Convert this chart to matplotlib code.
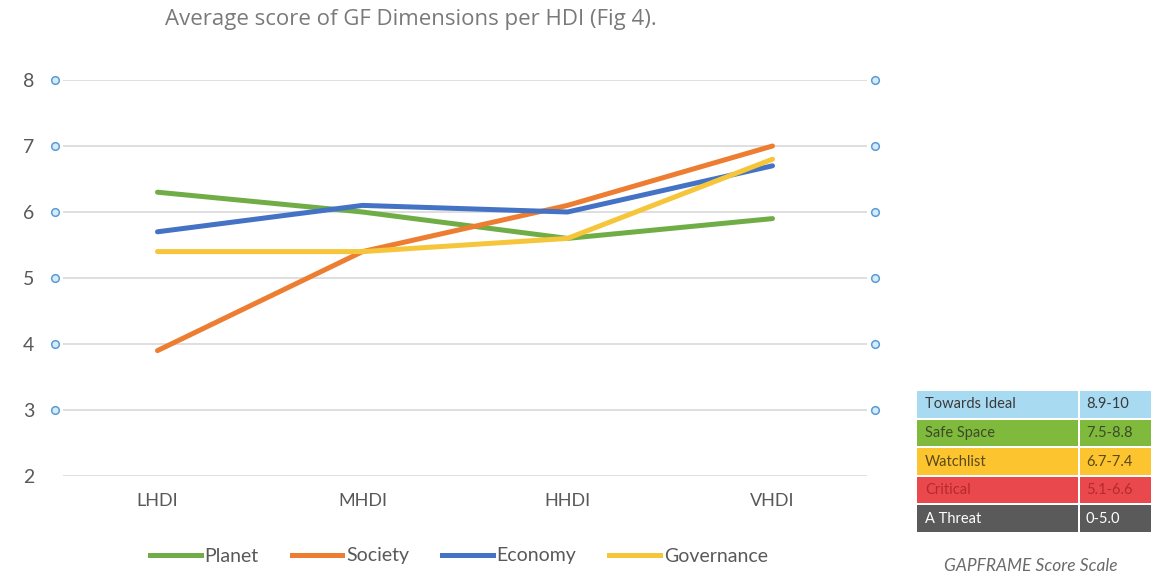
import matplotlib
matplotlib.use("Agg")
import matplotlib.pyplot as plt
from matplotlib.lines import Line2D
from matplotlib.patches import Rectangle

# --- data -------------------------------------------------------------
categories = ["LHDI", "MHDI", "HHDI", "VHDI"]
planet = [6.3, 6.0, 5.6, 5.9]
society = [3.9, 5.4, 6.1, 7.0]
economy = [5.7, 6.1, 6.0, 6.7]
governance = [5.4, 5.4, 5.6, 6.8]
series_names = ["Planet", "Society", "Economy", "Governance"]
y_ticks = [2, 3, 4, 5, 6, 7, 8]
handle_ticks = [3, 4, 5, 6, 7, 8]

scale_labels = ["Towards Ideal", "Safe Space", "Watchlist", "Critical", "A Threat"]
scale_ranges = ["8.9-10", "7.5-8.8", "6.7-7.4", "5.1-6.6", "0-5.0"]

# --- styling ----------------------------------------------------------
colors = ["#70ad47", "#ed7d31", "#4472c4", "#f5c53a"]
scale_fill = ["#a8daf2", "#7fba3c", "#fcc42f", "#e9494c", "#5a5a5a"]
scale_text = ["#3a3a3a", "#3d4a2a", "#5a4a1a", "#b8282c", "#ffffff"]
axis_font = "Lato"

W, H = 1151, 577
fig = plt.figure(figsize=(W / 100, H / 100), dpi=100)
fig.patch.set_facecolor("white")


def px_rect(x0, y0, x1, y1):
    return [x0 / W, 1 - y1 / H, (x1 - x0) / W, (y1 - y0) / H]


ax = fig.add_axes(px_rect(55, 80, 875, 476))
ax.set_xlim(-0.5, 3.5)
ax.set_ylim(2, 8)
for s in ax.spines.values():
    s.set_visible(False)

# horizontal gridlines
ax.hlines(y_ticks, -0.46, 3.46, color="#d9d9d9", lw=1.2, zorder=1)

xs = list(range(len(categories)))
for vals, c, name in zip([planet, society, economy, governance], colors, series_names):
    ax.plot(xs, vals, color=c, lw=3.6, solid_capstyle="round", zorder=3, label=name)

# selection handles on both vertical edges
for xh in (-0.5, 3.5):
    ax.plot([xh] * len(handle_ticks), handle_ticks, ls="none", marker="o", ms=5.5,
            mfc="#d6ebfa", mec="#5b9bd5", mew=1.1, clip_on=False, zorder=4)

ax.set_yticks(y_ticks)
ax.set_yticklabels([str(t) for t in y_ticks], fontsize=14, color="#595959", family=axis_font)
ax.tick_params(axis="y", length=0, pad=15)
ax.set_xticks(xs)
ax.set_xticklabels(categories, fontsize=13, color="#595959", family=axis_font)
ax.tick_params(axis="x", length=0, pad=12)

handles = [Line2D([0], [0], color=c, lw=3.6) for c in colors]
fig.legend(handles, series_names, loc="center", bbox_to_anchor=(459 / W, 1 - 556 / H),
           ncol=4, frameon=False, handlelength=2.6, handletextpad=0.2, columnspacing=1.7,
           prop={"family": axis_font, "size": 14}, labelcolor="#595959")

fig.text(411 / W, 1 - 20 / H, "Average score of GF Dimensions per HDI (Fig 4).",
         ha="center", va="center", fontsize=16, color="#7a7a7a", family="Open Sans")

# GAPFRAME score scale table
tx = fig.add_axes(px_rect(917, 390, 1151, 533))
tx.set_xlim(0, 234)
tx.set_ylim(143, 0)
tx.axis("off")
row_h = 28.6
split = 162
for i, (lab, rng) in enumerate(zip(scale_labels, scale_ranges)):
    y0 = i * row_h
    tx.add_patch(Rectangle((0, y0 + 1), split - 1, row_h - 2, color=scale_fill[i], lw=0))
    tx.add_patch(Rectangle((split + 1, y0 + 1), 234 - split - 1, row_h - 2, color=scale_fill[i], lw=0))
    tx.text(8, y0 + row_h / 2, lab, ha="left", va="center", fontsize=10.5,
            color=scale_text[i], family="Lato")
    tx.text(split + 7, y0 + row_h / 2, rng, ha="left", va="center", fontsize=10.5,
            color=scale_text[i], family="Lato")

fig.text(1031 / W, 1 - 566 / H, "GAPFRAME Score Scale", ha="center", va="center",
         fontsize=12.5, color="#6a6a6a", family="Lato", style="italic")

fig.savefig("out.png", dpi=100, facecolor="white")
